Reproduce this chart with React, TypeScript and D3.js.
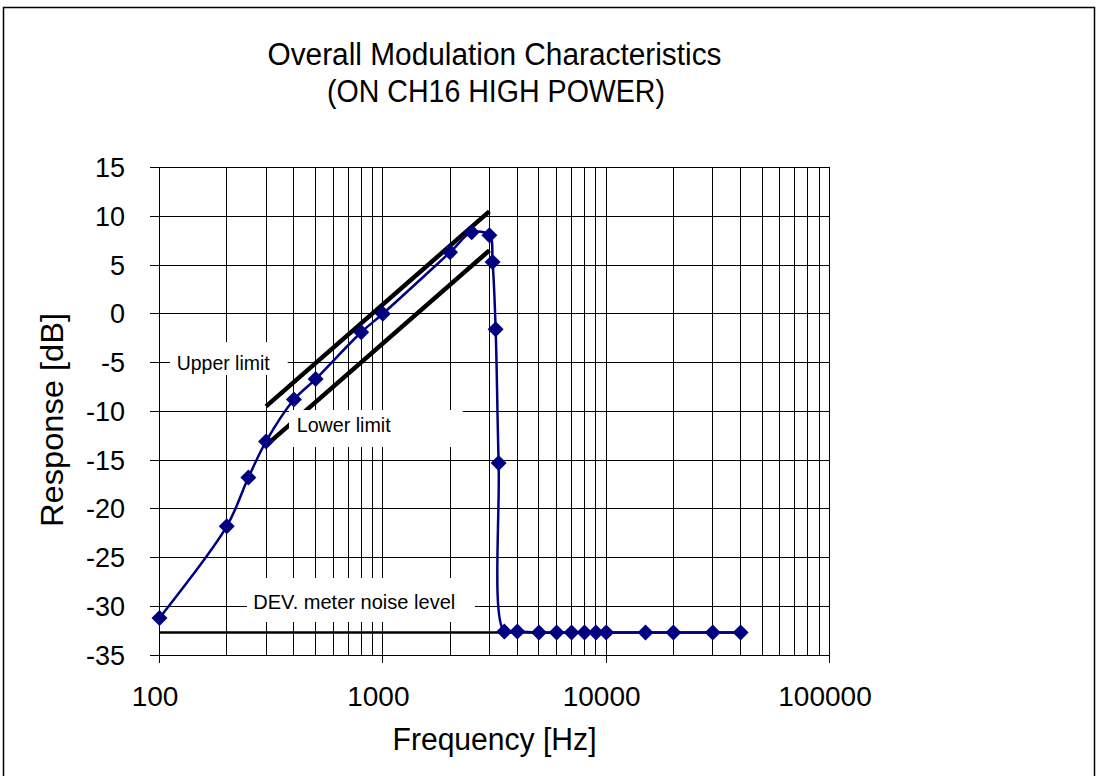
import React from "react";
import * as d3 from "d3";

// ---- Data ----
const frequencies = [100, 200, 250, 300, 400, 500, 800, 1000, 2000, 2500, 3000, 3100, 3200, 3300, 3500, 4000, 5000, 6000, 7000, 8000, 9000, 10000, 15000, 20000, 30000, 40000];
const response = [-31.2, -21.8, -16.8, -13.1, -8.8, -6.7, -1.9, 0.0, 6.3, 8.35, 8.05, 5.3, -1.6, -15.3, -32.6, -32.6, -32.7, -32.7, -32.7, -32.7, -32.7, -32.7, -32.7, -32.7, -32.7, -32.7];

const limitFreqs = [300, 3000];
const upperLimit = [-9.5, 10.5];
const lowerLimit = [-13.5, 6.5];

const noiseFreqs = [100, 40000];
const noiseLevel = [-32.7, -32.7];

const yTicks = [15, 10, 5, 0, -5, -10, -15, -20, -25, -30, -35];
const xTicks = [100, 1000, 10000, 100000];
const xTickLabels = ["100", "1000", "10000", "100000"];

const titleLines = ["Overall Modulation Characteristics", "(ON CH16 HIGH POWER)"];
const xTitle = "Frequency [Hz]";
const yTitle = "Response [dB]";

// annotation anchors (freq, value) for the text start / baseline
const annotations = [
  { text: "Upper limit", f: 119.4, v: -5.77, len: 93, box: [-6.7, -28, 111, 5] },
  { text: "Lower limit", f: 411.5, v: -12.1, len: 94, box: [-7.7, -21.7, 166, 15.3] },
  { text: "DEV. meter noise level", f: 263, v: -30.33, len: 202, box: [-6.3, -31.5, 221.7, 12.5] },
];

const W = 1097;
const H = 776;
const FONT = "'Liberation Sans', Arial, sans-serif";

export default function App() {
  const x = d3.scaleLog().domain([100, 100000]).range([159.5, 829.5]);
  const y = d3.scaleLinear().domain([-35, 15]).range([655, 167.5]);
  const crisp = (v: number) => Math.floor(v) + 0.5;

  const [x0, x1] = x.range();
  const [yb, yt] = y.range();

  const vGrid: number[] = [];
  for (let dec = 100; dec < 100000; dec *= 10) {
    for (let m = 1; m <= 9; m++) vGrid.push(dec * m);
  }
  vGrid.push(100000);

  const series = frequencies.map((f, i) => [x(f), y(response[i])] as [number, number]);
  const lineGen = d3.line().curve(d3.curveCatmullRom.alpha(0.5));
  const seriesPath = lineGen(series) || "";

  const upperPts = limitFreqs.map((f, i) => [x(f), y(upperLimit[i])] as [number, number]);
  const lowerPts = limitFreqs.map((f, i) => [x(f), y(lowerLimit[i])] as [number, number]);
  const noisePts = noiseFreqs.map((f, i) => [x(f), y(noiseLevel[i])] as [number, number]);
  const straight = d3.line();

  const dsize = 8;
  const diamond = (cx: number, cy: number) =>
    `M${cx},${cy - dsize}L${cx + dsize},${cy}L${cx},${cy + dsize}L${cx - dsize},${cy}Z`;

  const cx = (x0 + x1) / 2;

  return (
    <svg width={W} height={H} style={{ position: "absolute", left: 0, top: 0, background: "#fff" }} fontFamily={FONT}>
      <rect x={0} y={0} width={W} height={H} fill="#fff" />
      <rect x={3.5} y={7.5} width={1091} height={800} fill="none" stroke="#000" strokeWidth={1.5} />

      {vGrid.map((f) => (
        <line key={"v" + f} x1={crisp(x(f))} x2={crisp(x(f))} y1={yt} y2={yb} stroke="#000" strokeWidth={1} />
      ))}
      {yTicks.map((t) => (
        <line key={"h" + t} x1={x0} x2={x1} y1={crisp(y(t))} y2={crisp(y(t))} stroke="#000" strokeWidth={1} />
      ))}
      <rect x={crisp(x0)} y={crisp(yt)} width={Math.round(x1 - x0)} height={Math.round(yb - yt)} fill="none" stroke="#000" strokeWidth={1} />

      {yTicks.map((t) => (
        <line key={"yt" + t} x1={x0 - 9.5} x2={x0} y1={crisp(y(t))} y2={crisp(y(t))} stroke="#000" strokeWidth={1} />
      ))}
      {xTicks.map((t) => (
        <line key={"xt" + t} x1={crisp(x(t))} x2={crisp(x(t))} y1={yb} y2={yb + 8} stroke="#000" strokeWidth={1} />
      ))}

      <path d={straight(upperPts) || ""} stroke="#000" strokeWidth={4.5} fill="none" />
      <path d={straight(lowerPts) || ""} stroke="#000" strokeWidth={4.5} fill="none" />
      <path d={straight(noisePts) || ""} stroke="#000" strokeWidth={2.5} fill="none" />

      {annotations.map((a) => {
        const ax = x(a.f);
        const ay = y(a.v);
        return (
          <g key={a.text}>
            <rect x={ax + a.box[0]} y={ay + a.box[1]} width={a.box[2] - a.box[0]} height={a.box[3] - a.box[1]} fill="#fff" />
            <text x={ax} y={ay} fontSize={21} textLength={a.len} lengthAdjust="spacingAndGlyphs" fill="#000">{a.text}</text>
          </g>
        );
      })}

      <path d={seriesPath} stroke="#000080" strokeWidth={2.5} fill="none" />
      {series.map(([px, py], i) => (
        <path key={"m" + i} d={diamond(px, py)} fill="#000080" />
      ))}

      {yTicks.map((t) => (
        <text key={"yl" + t} x={125} y={y(t)} dy="0.36em" textAnchor="end" fontSize={27} fill="#000">
          {t < 0 ? "-" + Math.abs(t) : String(t)}
        </text>
      ))}
      {xTicks.map((t, i) => (
        <text key={"xl" + t} x={x(t) - 4.5} y={706} textAnchor="middle" fontSize={28} fill="#000">
          {xTickLabels[i]}
        </text>
      ))}

      <text x={cx} y={750} textAnchor="middle" fontSize={31} textLength={204} lengthAdjust="spacingAndGlyphs" fill="#000">{xTitle}</text>
      <text transform={`translate(63,420) rotate(-90)`} textAnchor="middle" fontSize={32} textLength={214} lengthAdjust="spacingAndGlyphs" fill="#000">{yTitle}</text>

      <text x={cx} y={65} textAnchor="middle" fontSize={31} textLength={454} lengthAdjust="spacingAndGlyphs" fill="#000">{titleLines[0]}</text>
      <text x={cx + 1.5} y={101.5} textAnchor="middle" fontSize={31} textLength={338} lengthAdjust="spacingAndGlyphs" fill="#000">{titleLines[1]}</text>
    </svg>
  );
}
